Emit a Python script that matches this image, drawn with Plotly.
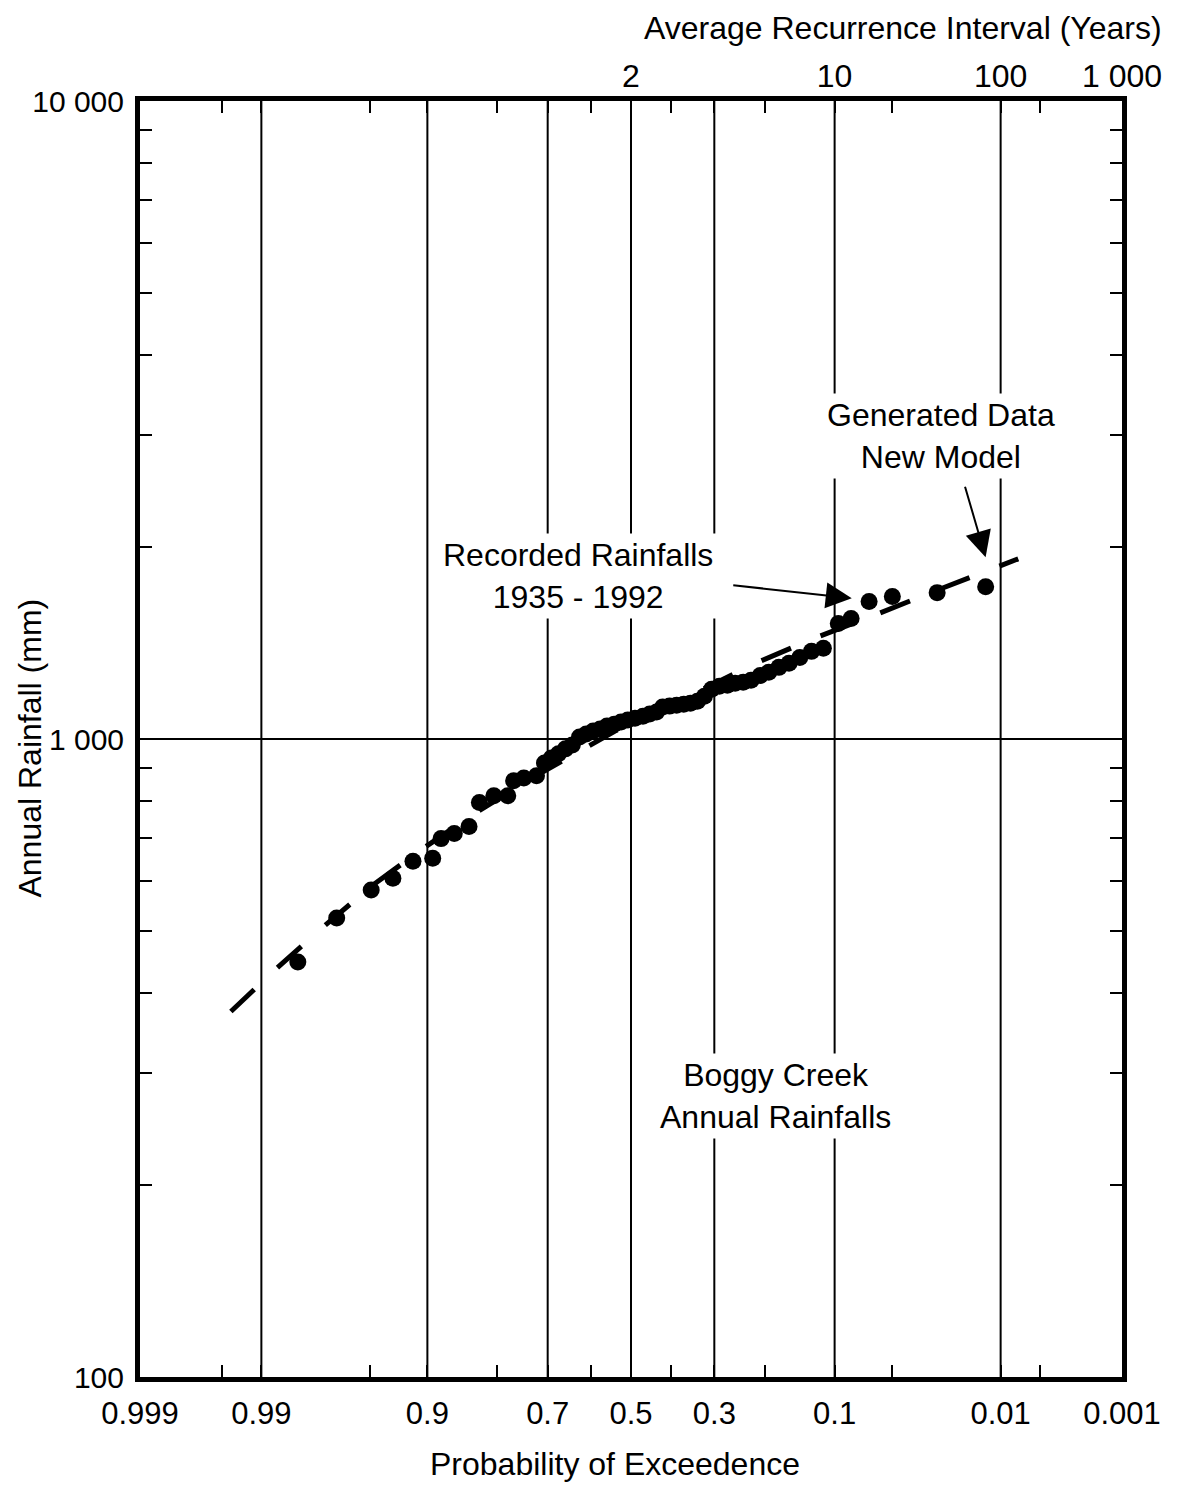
import plotly.graph_objects as go
from statistics import NormalDist

ND = NormalDist()


def zq(p):
    # normal-probability scale position for an exceedance probability
    return ND.inv_cdf(1.0 - p)


FONT = "Liberation Sans, Arial, Helvetica, sans-serif"

# Recorded annual rainfalls 1935-1992 (probability of exceedance, mm)
rec_prob = [0.982, 0.968, 0.949, 0.933, 0.915, 0.894, 0.884, 0.867, 0.846, 0.830,
            0.806, 0.781, 0.770, 0.750, 0.724, 0.707, 0.692, 0.676, 0.660, 0.644,
            0.627, 0.611, 0.594, 0.577, 0.560, 0.542, 0.525, 0.508, 0.490, 0.470,
            0.453, 0.436, 0.421, 0.404, 0.387, 0.370, 0.354, 0.338, 0.322, 0.306,
            0.289, 0.272, 0.256, 0.240, 0.225, 0.208, 0.193, 0.176, 0.160, 0.144,
            0.128, 0.113, 0.096, 0.083, 0.067, 0.050, 0.027, 0.0128]
rec_rain = [447, 524, 580, 605, 643, 650, 698, 711, 729, 795,
            815, 815, 860, 869, 876, 917, 934, 948, 965, 979,
            1007, 1018, 1029, 1037, 1048, 1055, 1063, 1071, 1078, 1086,
            1094, 1102, 1122, 1126, 1130, 1134, 1138, 1146, 1167, 1197,
            1210, 1214, 1223, 1227, 1236, 1258, 1272, 1295, 1314, 1342,
            1372, 1387, 1517, 1545, 1642, 1672, 1696, 1733]

# Generated data, new model (dashed curve)
model_prob = [0.9941, 0.987, 0.9733, 0.948, 0.9032, 0.835, 0.736, 0.613, 0.54,
              0.3726, 0.217, 0.125, 0.0652, 0.0256, 0.0074]
model_rain = [374, 438, 509, 590, 676, 767, 866, 968, 1029,
              1154, 1314, 1438, 1556, 1720, 1916]

# Axis ticks
x_major_p = [0.999, 0.99, 0.9, 0.7, 0.5, 0.3, 0.1, 0.01, 0.001]
x_major_lbl = ["0.999", "0.99", "0.9", "0.7", "0.5", "0.3", "0.1", "0.01", "0.001"]
x_minor_p = [0.995, 0.95, 0.8, 0.6, 0.4, 0.2, 0.05, 0.005]
x_grid_p = [0.99, 0.9, 0.7, 0.5, 0.3, 0.1, 0.01]
ri_years = [2, 10, 100, 1000]
ri_lbl = ["2", "10", "100", "1 000"]
y_major = [100, 1000, 10000]
y_major_lbl = ["100", "1 000", "10 000"]
y_minor = [200, 300, 400, 500, 600, 700, 800, 900,
           2000, 3000, 4000, 5000, 6000, 7000, 8000, 9000]
y_grid = [1000]

xr = [zq(0.999), zq(0.001)]

fig = go.Figure()
fig.add_trace(go.Scatter(
    x=[zq(p) for p in model_prob], y=model_rain, mode="lines",
    line=dict(color="black", width=5, dash="32px,32px"),
    hoverinfo="skip", showlegend=False))
fig.add_trace(go.Scatter(
    x=[zq(p) for p in rec_prob], y=rec_rain, mode="markers",
    marker=dict(color="black", size=17, line=dict(width=0)),
    showlegend=False))
# invisible copy on the top (recurrence interval) axis so that axis is drawn
fig.add_trace(go.Scatter(
    x=[zq(p) for p in rec_prob], y=rec_rain, mode="markers", xaxis="x2",
    marker=dict(color="black", size=1, opacity=0),
    hoverinfo="skip", showlegend=False))

shapes = []
for p in x_grid_p:
    shapes.append(dict(type="line", xref="x", yref="paper", x0=zq(p), x1=zq(p),
                       y0=0, y1=1, layer="below", line=dict(color="black", width=2)))
for v in y_grid:
    shapes.append(dict(type="line", xref="paper", yref="y", x0=0, x1=1,
                       y0=v, y1=v, layer="below", line=dict(color="black", width=2)))

txt = dict(family=FONT, size=32, color="black")
annotations = [
    dict(text="Average Recurrence Interval (Years)", xref="paper", yref="paper",
         x=0.7767, y=1.0575, xanchor="center", yanchor="middle", showarrow=False, font=txt),
    dict(text="Probability of Exceedence", xref="paper", yref="paper",
         x=0.4837, y=-0.0685, xanchor="center", yanchor="middle", showarrow=False, font=txt),
    dict(text="Annual Rainfall (mm)", xref="paper", yref="paper", textangle=-90,
         x=-0.1124, y=0.493, xanchor="center", yanchor="middle", showarrow=False,
         font=txt),
    dict(text="Recorded Rainfalls<br>1935 - 1992", xref="paper", yref="paper",
         x=0.4461, y=0.6276, xanchor="center", yanchor="middle", showarrow=False,
         font=txt, bgcolor="white", borderpad=3),
    dict(text="Generated Data<br>New Model", xref="paper", yref="paper",
         x=0.8154, y=0.7375, xanchor="center", yanchor="middle", showarrow=False,
         font=txt, bgcolor="white", borderpad=3),
    dict(text="Boggy Creek<br>Annual Rainfalls", xref="paper", yref="paper",
         x=0.6475, y=0.2204, xanchor="center", yanchor="middle", showarrow=False,
         font=txt, bgcolor="white", borderpad=3),
    dict(text="", xref="paper", yref="paper", x=0.7248, y=0.6104, ax=-120, ay=-13,
         showarrow=True, arrowhead=2, arrowsize=2.6, arrowwidth=2, arrowcolor="black",
         standoff=0, startstandoff=0),
    dict(text="", xref="paper", yref="paper", x=0.8611, y=0.6425, ax=-21, ay=-72,
         showarrow=True, arrowhead=2, arrowsize=2.6, arrowwidth=2, arrowcolor="black",
         standoff=0, startstandoff=0),
]

fig.update_layout(
    width=1173, height=1477,
    margin=dict(l=131.5, r=58.5, t=92.5, b=107.5, autoexpand=False),
    paper_bgcolor="white", plot_bgcolor="white",
    showlegend=False,
    shapes=shapes, annotations=annotations,
    xaxis=dict(
        range=xr,
        tickmode="array",
        tickvals=[zq(p) for p in x_major_p] + [zq(p) for p in x_minor_p],
        ticktext=x_major_lbl + [""] * len(x_minor_p),
        ticks="inside", ticklen=12, tickwidth=2, tickcolor="black",
        showline=True, linewidth=5, linecolor="black", mirror="ticks",
        showgrid=False, zeroline=False, ticklabelstandoff=5,
        tickfont=dict(family=FONT, size=31, color="black"),
    ),
    xaxis2=dict(
        range=xr, overlaying="x", side="top", anchor="y",
        tickmode="array",
        tickvals=[zq(1.0 / t) for t in ri_years],
        ticktext=ri_lbl,
        ticks="", showline=False, showgrid=False, zeroline=False,
        ticklabelstandoff=7,
        tickfont=dict(family=FONT, size=32, color="black"),
    ),
    yaxis=dict(
        type="log", range=[2, 4],
        tickmode="array",
        tickvals=y_major + y_minor,
        ticktext=y_major_lbl + [""] * len(y_minor),
        ticks="inside", ticklen=12, tickwidth=2, tickcolor="black",
        showline=True, linewidth=5, linecolor="black", mirror="ticks",
        showgrid=False, zeroline=False, ticklabelstandoff=5,
        tickfont=dict(family=FONT, size=30, color="black"),
    ),
)

fig.write_html("out.html")
